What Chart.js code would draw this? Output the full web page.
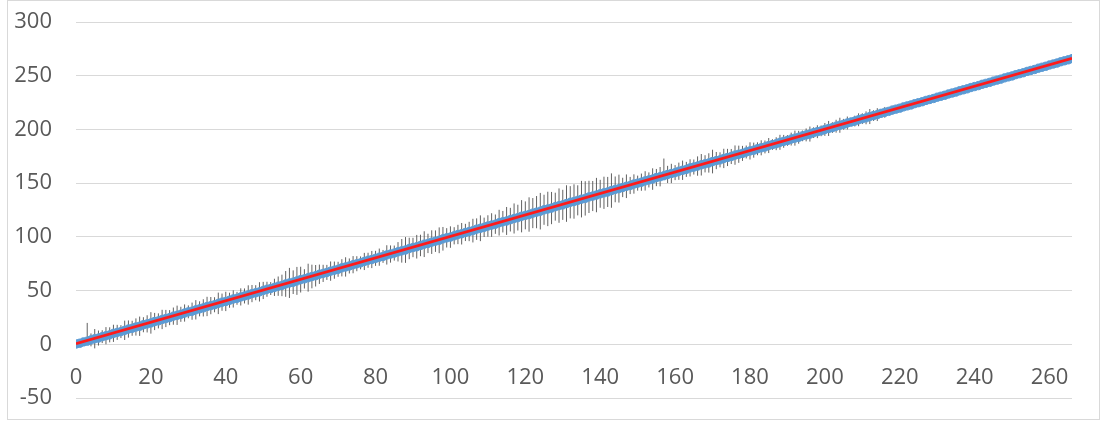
<!DOCTYPE html>
<html>
<head>
<meta charset="utf-8">
<script src="https://cdn.jsdelivr.net/npm/chart.js@4/dist/chart.umd.min.js"></script>
<style>
  html, body { margin: 0; padding: 0; background: #fff; }
  #wrap { position: relative; width: 1106px; height: 421px; }
  #frame { position: absolute; left: 7px; top: 0; width: 1091px; height: 418px; border: 1px solid #d9d9d9; pointer-events: none; }
</style>
</head>
<body>
<div id="wrap">
  <canvas id="grafico" width="1106" height="421"></canvas>
  <div id="frame"></div>
</div>
<script>
const xValues = [
  0, 1, 2, 3, 4, 5, 6, 7, 8, 9,
  10, 11, 12, 13, 14, 15, 16, 17, 18, 19,
  20, 21, 22, 23, 24, 25, 26, 27, 28, 29,
  30, 31, 32, 33, 34, 35, 36, 37, 38, 39,
  40, 41, 42, 43, 44, 45, 46, 47, 48, 49,
  50, 51, 52, 53, 54, 55, 56, 57, 58, 59,
  60, 61, 62, 63, 64, 65, 66, 67, 68, 69,
  70, 71, 72, 73, 74, 75, 76, 77, 78, 79,
  80, 81, 82, 83, 84, 85, 86, 87, 88, 89,
  90, 91, 92, 93, 94, 95, 96, 97, 98, 99,
  100, 101, 102, 103, 104, 105, 106, 107, 108, 109,
  110, 111, 112, 113, 114, 115, 116, 117, 118, 119,
  120, 121, 122, 123, 124, 125, 126, 127, 128, 129,
  130, 131, 132, 133, 134, 135, 136, 137, 138, 139,
  140, 141, 142, 143, 144, 145, 146, 147, 148, 149,
  150, 151, 152, 153, 154, 155, 156, 157, 158, 159,
  160, 161, 162, 163, 164, 165, 166, 167, 168, 169,
  170, 171, 172, 173, 174, 175, 176, 177, 178, 179,
  180, 181, 182, 183, 184, 185, 186, 187, 188, 189,
  190, 191, 192, 193, 194, 195, 196, 197, 198, 199,
  200, 201, 202, 203, 204, 205, 206, 207, 208, 209,
  210, 211, 212, 213, 214, 215, 216, 217, 218, 219,
  220, 221, 222, 223, 224, 225, 226, 227, 228, 229,
  230, 231, 232, 233, 234, 235, 236, 237, 238, 239,
  240, 241, 242, 243, 244, 245, 246, 247, 248, 249,
  250, 251, 252, 253, 254, 255, 256, 257, 258, 259,
  260, 261, 262, 263, 264, 265, 266
];

const yValues = [
  0.3, 1.0, 2.2, 2.9, 4.1, 5.2, 5.8, 7.1, 8.0, 8.8,
  10.2, 11.1, 11.8, 13.0, 14.2, 14.9, 16.1, 16.8, 18.2, 19.0,
  19.9, 21.2, 21.8, 23.1, 24.0, 24.8, 26.2, 27.0, 27.9, 29.1,
  30.2, 30.8, 32.1, 33.0, 33.9, 35.2, 36.0, 36.8, 38.1, 39.2,
  39.9, 41.0, 42.2, 42.8, 44.1, 45.0, 45.9, 47.2, 48.0, 48.8,
  50.1, 51.2, 51.9, 53.0, 54.1, 54.8, 56.2, 57.1, 57.8, 59.0,
  60.2, 60.9, 62.0, 63.1, 63.8, 65.2, 66.0, 66.9, 68.1, 69.0,
  69.8, 71.2, 72.0, 72.9, 74.1, 75.0, 75.8, 77.1, 78.2, 78.9,
  80.0, 81.1, 81.8, 83.2, 84.0, 84.9, 86.1, 87.0, 87.8, 89.2,
  90.1, 90.8, 92.0, 93.2, 93.9, 95.1, 96.0, 96.8, 98.2, 99.1,
  99.8, 101.0, 102.2, 102.9, 104.1, 105.0, 105.8, 107.2, 108.0, 108.9,
  110.1, 111.0, 111.8, 113.2, 114.1, 114.8, 116.0, 117.1, 117.9, 119.2,
  120.0, 120.8, 122.1, 123.0, 123.9, 125.2, 126.0, 126.8, 128.1, 129.1,
  129.8, 131.0, 132.2, 132.9, 134.0, 135.1, 135.8, 137.2, 138.0, 138.9,
  140.1, 141.0, 141.8, 143.1, 144.2, 144.9, 146.0, 147.1, 147.8, 149.2,
  150.0, 150.9, 152.1, 153.0, 153.8, 155.2, 156.0, 156.9, 158.1, 159.0,
  159.8, 161.1, 162.0, 162.8, 164.2, 165.0, 165.9, 167.1, 168.0, 168.8,
  170.1, 171.0, 171.7, 173.0, 173.9, 174.8, 176.1, 176.9, 177.7, 179.0,
  180.0, 180.7, 182.0, 182.9, 183.7, 185.0, 185.9, 186.7, 188.0, 188.9,
  189.7, 191.0, 191.9, 192.7, 194.0, 194.9, 195.7, 197.0, 197.9, 198.7,
  200.0, 200.9, 201.7, 203.0, 203.9, 204.8, 206.0, 206.9, 207.8, 209.0,
  210.0, 210.8, 212.0, 212.9, 213.8, 215.0, 215.9, 216.8, 218.0, 218.9,
  219.8, 221.0, 221.9, 222.8, 224.0, 224.9, 225.8, 227.0, 227.9, 228.8,
  230.0, 230.9, 231.8, 233.0, 233.9, 234.8, 236.0, 236.9, 237.8, 239.0,
  239.9, 240.8, 242.0, 242.9, 243.8, 245.0, 245.9, 246.8, 248.0, 248.9,
  249.8, 251.0, 251.9, 252.8, 254.0, 254.9, 255.8, 257.0, 257.9, 258.8,
  260.0, 260.9, 261.8, 263.0, 263.9, 264.8, 265.9
];

// error bar length above and below each point
const errUp = [
  0, 1, 2, 17, 6, 9, 7, 6, 8, 7,
  8, 7, 6, 9, 8, 7, 8, 9, 7, 8,
  10, 8, 7, 9, 8, 7, 8, 9, 7, 8,
  6, 8, 9, 7, 8, 9, 8, 7, 10, 8,
  9, 7, 8, 6, 8, 7, 9, 8, 7, 9,
  8, 7, 6, 8, 9, 10, 12, 14, 11, 13,
  12, 9, 13, 11, 10, 9, 8, 7, 9, 8,
  7, 8, 9, 7, 8, 7, 6, 8, 7, 8,
  7, 8, 6, 9, 8, 7, 9, 11, 12, 10,
  9, 11, 10, 12, 9, 11, 10, 12, 11, 9,
  10, 8, 9, 10, 8, 9, 11, 10, 12, 9,
  10, 11, 9, 12, 10, 13, 11, 14, 12, 15,
  13, 16, 14, 15, 17, 14, 16, 15, 13, 16,
  14, 17, 15, 16, 14, 17, 16, 15, 14, 16,
  13, 15, 14, 16, 12, 13, 9, 11, 8, 9,
  7, 8, 9, 7, 10, 8, 9, 16, 8, 9,
  7, 8, 9, 7, 8, 7, 9, 10, 8, 9,
  11, 8, 7, 9, 8, 7, 9, 8, 7, 6,
  8, 7, 6, 7, 6, 7, 5, 6, 7, 6,
  5, 6, 7, 6, 5, 6, 7, 5, 6, 5,
  6, 7, 5, 6, 7, 5, 6, 4, 5, 6,
  5, 6, 7, 5, 6, 4, 5, 3, 4, 3,
  2, 1, 1, 1, 0, 1, 0, 0, 0, 0,
  0, 0, 0, 0, 0, 0, 0, 0, 0, 0,
  0, 0, 0, 0, 0, 0, 0, 0, 0, 0,
  0, 0, 0, 0, 0, 0, 0, 0, 0, 0,
  0, 0, 0, 0, 0, 0, 0
];
const errDown = [
  0, 1, 2, 1, 6, 9, 7, 6, 8, 7,
  8, 7, 6, 9, 8, 7, 8, 9, 7, 8,
  10, 8, 7, 9, 8, 7, 8, 9, 7, 8,
  6, 8, 9, 7, 8, 9, 8, 7, 10, 8,
  9, 7, 8, 6, 8, 7, 9, 8, 7, 9,
  8, 7, 6, 8, 9, 10, 12, 14, 11, 13,
  12, 9, 13, 11, 10, 9, 8, 7, 9, 8,
  7, 8, 9, 7, 8, 7, 6, 8, 7, 8,
  7, 8, 6, 9, 8, 7, 9, 11, 12, 10,
  9, 11, 10, 12, 9, 11, 10, 12, 11, 9,
  10, 8, 9, 10, 8, 9, 11, 10, 12, 9,
  10, 11, 9, 12, 10, 13, 11, 14, 12, 15,
  13, 16, 14, 15, 17, 14, 16, 15, 13, 16,
  14, 17, 15, 16, 14, 17, 16, 15, 14, 16,
  13, 15, 14, 16, 12, 13, 9, 11, 8, 9,
  7, 8, 9, 7, 10, 8, 9, 3, 8, 9,
  7, 8, 9, 7, 8, 7, 9, 10, 8, 9,
  11, 8, 7, 9, 8, 7, 9, 8, 7, 6,
  8, 7, 6, 7, 6, 7, 5, 6, 7, 6,
  5, 6, 7, 6, 5, 6, 7, 5, 6, 5,
  6, 7, 5, 6, 7, 5, 6, 4, 5, 6,
  5, 6, 7, 5, 6, 4, 5, 3, 4, 3,
  2, 1, 1, 1, 0, 1, 0, 0, 0, 0,
  0, 0, 0, 0, 0, 0, 0, 0, 0, 0,
  0, 0, 0, 0, 0, 0, 0, 0, 0, 0,
  0, 0, 0, 0, 0, 0, 0, 0, 0, 0,
  0, 0, 0, 0, 0, 0, 0
];

// linear trendline end points
const trendX = [0, 266];
const trendY = [0.6, 266.2];

const yTicks = [-50, 0, 50, 100, 150, 200, 250, 300];
const xTicks = [0, 20, 40, 60, 80, 100, 120, 140, 160, 180, 200, 220, 240, 260];

const pontos = xValues.map((x, i) => ({ x: x, y: yValues[i] }));
const tendencia = trendX.map((x, i) => ({ x: x, y: trendY[i] }));

const barrasDeErro = {
    id: 'barrasDeErro',
    beforeDatasetsDraw(chart) {
        const ctx = chart.ctx;
        const sx = chart.scales.x;
        const sy = chart.scales.y;
        ctx.save();
        ctx.strokeStyle = 'rgba(70,70,70,0.85)';
        ctx.lineWidth = 1;
        ctx.beginPath();
        xValues.forEach((x, i) => {
            if (!errUp[i] && !errDown[i]) return;
            const px = sx.getPixelForValue(x);
            ctx.moveTo(px, sy.getPixelForValue(yValues[i] + errUp[i]));
            ctx.lineTo(px, sy.getPixelForValue(yValues[i] - errDown[i]));
        });
        ctx.stroke();
        ctx.restore();
    }
};

const fonte = { family: '"Open Sans", sans-serif', size: 22 };

new Chart(document.getElementById('grafico'), {
    type: 'scatter',
    data: {
        datasets: [{
            label: 'Tendência',
            data: tendencia,
            type: 'line',
            borderColor: '#ff1a1a',
            borderWidth: 2.7,
            pointRadius: 0,
            fill: false,
            order: 0
        }, {
            label: 'Dados',
            data: pontos,
            backgroundColor: '#5b9bd5',
            borderColor: '#5b9bd5',
            borderWidth: 1,
            pointRadius: 4.2,
            order: 1
        }]
    },
    plugins: [barrasDeErro],
    options: {
        responsive: false,
        animation: false,
        layout: { padding: { left: 0, top: 22, right: 34, bottom: 23 } },
        plugins: { legend: { display: false }, tooltip: { enabled: false } },
        scales: {
            x: {
                type: 'linear',
                position: { y: 0 },
                min: 0,
                max: 266,
                afterBuildTicks(scale) { scale.ticks = xTicks.map(v => ({ value: v })); },
                afterFit(scale) { scale.paddingLeft = 0; scale.paddingRight = 0; },
                ticks: { color: '#595959', font: fonte, padding: 20, maxRotation: 0 },
                grid: { display: false, drawTicks: false },
                border: { display: false }
            },
            y: {
                min: -50,
                max: 300,
                afterBuildTicks(scale) { scale.ticks = yTicks.map(v => ({ value: v })); },
                afterFit(scale) {
                    scale.width = 76;
                    scale.paddingTop = 0;
                    scale.paddingBottom = 0;
                },
                ticks: { color: '#595959', font: fonte, padding: 24 },
                grid: { color: '#d9d9d9', lineWidth: 1, drawTicks: false },
                border: { display: false }
            }
        }
    }
});
</script>
</body>
</html>
